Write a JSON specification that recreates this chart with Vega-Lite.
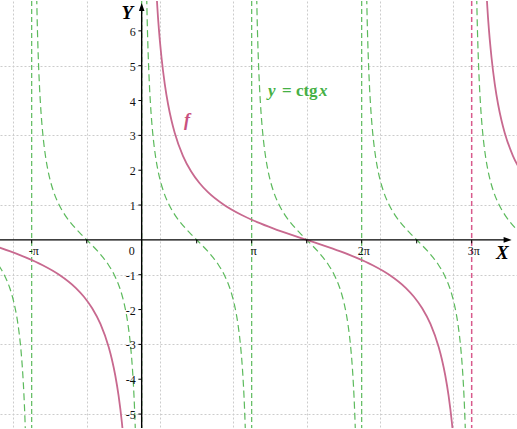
{
  "$schema": "https://vega.github.io/schema/vega-lite/v6.json",
  "width": 517,
  "height": 429,
  "autosize": {"type": "fit", "contains": "padding"},
  "padding": 0,
  "background": "white",
  "config": {"view": {"stroke": null}},
  "datasets": {
    "gasym": [{"x": -1}, {"x": 0}, {"x": 1}, {"x": 2}],
    "pasym": [{"x": 3}],
    "green": [
      {"b": "A", "x": -1.3, "y": -0.727}, {"b": "A", "x": -1.25, "y": -1}, {"b": "A", "x": -1.2, "y": -1.376}, {"b": "A", "x": -1.175, "y": -1.632}, {"b": "A", "x": -1.15, "y": -1.963}, {"b": "A", "x": -1.125, "y": -2.414}, {"b": "A", "x": -1.1, "y": -3.078}, {"b": "A", "x": -1.09, "y": -3.442}, {"b": "A", "x": -1.08, "y": -3.894}, {"b": "A", "x": -1.07, "y": -4.474}, {"b": "A", "x": -1.06, "y": -5.242}, {"b": "A", "x": -1.05, "y": -6.314}, {"b": "A", "x": -1.04, "y": -7.916},
      {"b": "B", "x": -0.96, "y": 7.916}, {"b": "B", "x": -0.95, "y": 6.314}, {"b": "B", "x": -0.94, "y": 5.242}, {"b": "B", "x": -0.93, "y": 4.474}, {"b": "B", "x": -0.92, "y": 3.894}, {"b": "B", "x": -0.91, "y": 3.442}, {"b": "B", "x": -0.9, "y": 3.078}, {"b": "B", "x": -0.875, "y": 2.414}, {"b": "B", "x": -0.85, "y": 1.963}, {"b": "B", "x": -0.825, "y": 1.632}, {"b": "B", "x": -0.8, "y": 1.376}, {"b": "B", "x": -0.75, "y": 1}, {"b": "B", "x": -0.7, "y": 0.727}, {"b": "B", "x": -0.65, "y": 0.51}, {"b": "B", "x": -0.6, "y": 0.325}, {"b": "B", "x": -0.55, "y": 0.158}, {"b": "B", "x": -0.5, "y": 0}, {"b": "B", "x": -0.45, "y": -0.158}, {"b": "B", "x": -0.4, "y": -0.325}, {"b": "B", "x": -0.35, "y": -0.51}, {"b": "B", "x": -0.3, "y": -0.727}, {"b": "B", "x": -0.25, "y": -1}, {"b": "B", "x": -0.2, "y": -1.376}, {"b": "B", "x": -0.175, "y": -1.632}, {"b": "B", "x": -0.15, "y": -1.963}, {"b": "B", "x": -0.125, "y": -2.414}, {"b": "B", "x": -0.1, "y": -3.078}, {"b": "B", "x": -0.09, "y": -3.442}, {"b": "B", "x": -0.08, "y": -3.894}, {"b": "B", "x": -0.07, "y": -4.474}, {"b": "B", "x": -0.06, "y": -5.242}, {"b": "B", "x": -0.05, "y": -6.314}, {"b": "B", "x": -0.04, "y": -7.916},
      {"b": "C", "x": 0.04, "y": 7.916}, {"b": "C", "x": 0.05, "y": 6.314}, {"b": "C", "x": 0.06, "y": 5.242}, {"b": "C", "x": 0.07, "y": 4.474}, {"b": "C", "x": 0.08, "y": 3.894}, {"b": "C", "x": 0.09, "y": 3.442}, {"b": "C", "x": 0.1, "y": 3.078}, {"b": "C", "x": 0.125, "y": 2.414}, {"b": "C", "x": 0.15, "y": 1.963}, {"b": "C", "x": 0.175, "y": 1.632}, {"b": "C", "x": 0.2, "y": 1.376}, {"b": "C", "x": 0.25, "y": 1}, {"b": "C", "x": 0.3, "y": 0.727}, {"b": "C", "x": 0.35, "y": 0.51}, {"b": "C", "x": 0.4, "y": 0.325}, {"b": "C", "x": 0.45, "y": 0.158}, {"b": "C", "x": 0.5, "y": 0}, {"b": "C", "x": 0.55, "y": -0.158}, {"b": "C", "x": 0.6, "y": -0.325}, {"b": "C", "x": 0.65, "y": -0.51}, {"b": "C", "x": 0.7, "y": -0.727}, {"b": "C", "x": 0.75, "y": -1}, {"b": "C", "x": 0.8, "y": -1.376}, {"b": "C", "x": 0.825, "y": -1.632}, {"b": "C", "x": 0.85, "y": -1.963}, {"b": "C", "x": 0.875, "y": -2.414}, {"b": "C", "x": 0.9, "y": -3.078}, {"b": "C", "x": 0.91, "y": -3.442}, {"b": "C", "x": 0.92, "y": -3.894}, {"b": "C", "x": 0.93, "y": -4.474}, {"b": "C", "x": 0.94, "y": -5.242}, {"b": "C", "x": 0.95, "y": -6.314}, {"b": "C", "x": 0.96, "y": -7.916},
      {"b": "D", "x": 1.04, "y": 7.916}, {"b": "D", "x": 1.05, "y": 6.314}, {"b": "D", "x": 1.06, "y": 5.242}, {"b": "D", "x": 1.07, "y": 4.474}, {"b": "D", "x": 1.08, "y": 3.894}, {"b": "D", "x": 1.09, "y": 3.442}, {"b": "D", "x": 1.1, "y": 3.078}, {"b": "D", "x": 1.125, "y": 2.414}, {"b": "D", "x": 1.15, "y": 1.963}, {"b": "D", "x": 1.175, "y": 1.632}, {"b": "D", "x": 1.2, "y": 1.376}, {"b": "D", "x": 1.25, "y": 1}, {"b": "D", "x": 1.3, "y": 0.727}, {"b": "D", "x": 1.35, "y": 0.51}, {"b": "D", "x": 1.4, "y": 0.325}, {"b": "D", "x": 1.45, "y": 0.158}, {"b": "D", "x": 1.5, "y": 0}, {"b": "D", "x": 1.55, "y": -0.158}, {"b": "D", "x": 1.6, "y": -0.325}, {"b": "D", "x": 1.65, "y": -0.51}, {"b": "D", "x": 1.7, "y": -0.727}, {"b": "D", "x": 1.75, "y": -1}, {"b": "D", "x": 1.8, "y": -1.376}, {"b": "D", "x": 1.825, "y": -1.632}, {"b": "D", "x": 1.85, "y": -1.963}, {"b": "D", "x": 1.875, "y": -2.414}, {"b": "D", "x": 1.9, "y": -3.078}, {"b": "D", "x": 1.91, "y": -3.442}, {"b": "D", "x": 1.92, "y": -3.894}, {"b": "D", "x": 1.93, "y": -4.474}, {"b": "D", "x": 1.94, "y": -5.242}, {"b": "D", "x": 1.95, "y": -6.314}, {"b": "D", "x": 1.96, "y": -7.916},
      {"b": "E", "x": 2.04, "y": 7.916}, {"b": "E", "x": 2.05, "y": 6.314}, {"b": "E", "x": 2.06, "y": 5.242}, {"b": "E", "x": 2.07, "y": 4.474}, {"b": "E", "x": 2.08, "y": 3.894}, {"b": "E", "x": 2.09, "y": 3.442}, {"b": "E", "x": 2.1, "y": 3.078}, {"b": "E", "x": 2.125, "y": 2.414}, {"b": "E", "x": 2.15, "y": 1.963}, {"b": "E", "x": 2.175, "y": 1.632}, {"b": "E", "x": 2.2, "y": 1.376}, {"b": "E", "x": 2.25, "y": 1}, {"b": "E", "x": 2.3, "y": 0.727}, {"b": "E", "x": 2.35, "y": 0.51}, {"b": "E", "x": 2.4, "y": 0.325}, {"b": "E", "x": 2.45, "y": 0.158}, {"b": "E", "x": 2.5, "y": 0}, {"b": "E", "x": 2.55, "y": -0.158}, {"b": "E", "x": 2.6, "y": -0.325}, {"b": "E", "x": 2.65, "y": -0.51}, {"b": "E", "x": 2.7, "y": -0.727}, {"b": "E", "x": 2.75, "y": -1}, {"b": "E", "x": 2.8, "y": -1.376}, {"b": "E", "x": 2.825, "y": -1.632}, {"b": "E", "x": 2.85, "y": -1.963}, {"b": "E", "x": 2.875, "y": -2.414}, {"b": "E", "x": 2.9, "y": -3.078}, {"b": "E", "x": 2.91, "y": -3.442}, {"b": "E", "x": 2.92, "y": -3.894}, {"b": "E", "x": 2.93, "y": -4.474}, {"b": "E", "x": 2.94, "y": -5.242}, {"b": "E", "x": 2.95, "y": -6.314}, {"b": "E", "x": 2.96, "y": -7.916},
      {"b": "F", "x": 3.04, "y": 7.916}, {"b": "F", "x": 3.05, "y": 6.314}, {"b": "F", "x": 3.06, "y": 5.242}, {"b": "F", "x": 3.07, "y": 4.474}, {"b": "F", "x": 3.08, "y": 3.894}, {"b": "F", "x": 3.09, "y": 3.442}, {"b": "F", "x": 3.1, "y": 3.078}, {"b": "F", "x": 3.125, "y": 2.414}, {"b": "F", "x": 3.15, "y": 1.963}, {"b": "F", "x": 3.175, "y": 1.632}, {"b": "F", "x": 3.2, "y": 1.376}, {"b": "F", "x": 3.25, "y": 1}, {"b": "F", "x": 3.3, "y": 0.727}, {"b": "F", "x": 3.35, "y": 0.51}, {"b": "F", "x": 3.4, "y": 0.325}, {"b": "F", "x": 3.45, "y": 0.158}
    ],
    "pink": [
      {"b": "P1", "x": -1.3, "y": -0.213}, {"b": "P1", "x": -1.2, "y": -0.325}, {"b": "P1", "x": -1.05, "y": -0.51}, {"b": "P1", "x": -0.9, "y": -0.727}, {"b": "P1", "x": -0.75, "y": -1}, {"b": "P1", "x": -0.6, "y": -1.376}, {"b": "P1", "x": -0.525, "y": -1.632}, {"b": "P1", "x": -0.45, "y": -1.963}, {"b": "P1", "x": -0.375, "y": -2.414}, {"b": "P1", "x": -0.3, "y": -3.078}, {"b": "P1", "x": -0.27, "y": -3.442}, {"b": "P1", "x": -0.24, "y": -3.894}, {"b": "P1", "x": -0.21, "y": -4.474}, {"b": "P1", "x": -0.18, "y": -5.242}, {"b": "P1", "x": -0.15, "y": -6.314}, {"b": "P1", "x": -0.12, "y": -7.916},
      {"b": "P2", "x": 0.12, "y": 7.916}, {"b": "P2", "x": 0.15, "y": 6.314}, {"b": "P2", "x": 0.18, "y": 5.242}, {"b": "P2", "x": 0.21, "y": 4.474}, {"b": "P2", "x": 0.24, "y": 3.894}, {"b": "P2", "x": 0.27, "y": 3.442}, {"b": "P2", "x": 0.3, "y": 3.078}, {"b": "P2", "x": 0.375, "y": 2.414}, {"b": "P2", "x": 0.45, "y": 1.963}, {"b": "P2", "x": 0.525, "y": 1.632}, {"b": "P2", "x": 0.6, "y": 1.376}, {"b": "P2", "x": 0.75, "y": 1}, {"b": "P2", "x": 0.9, "y": 0.727}, {"b": "P2", "x": 1.05, "y": 0.51}, {"b": "P2", "x": 1.2, "y": 0.325}, {"b": "P2", "x": 1.35, "y": 0.158}, {"b": "P2", "x": 1.5, "y": 0}, {"b": "P2", "x": 1.65, "y": -0.158}, {"b": "P2", "x": 1.8, "y": -0.325}, {"b": "P2", "x": 1.95, "y": -0.51}, {"b": "P2", "x": 2.1, "y": -0.727}, {"b": "P2", "x": 2.25, "y": -1}, {"b": "P2", "x": 2.4, "y": -1.376}, {"b": "P2", "x": 2.475, "y": -1.632}, {"b": "P2", "x": 2.55, "y": -1.963}, {"b": "P2", "x": 2.625, "y": -2.414}, {"b": "P2", "x": 2.7, "y": -3.078}, {"b": "P2", "x": 2.73, "y": -3.442}, {"b": "P2", "x": 2.76, "y": -3.894}, {"b": "P2", "x": 2.79, "y": -4.474}, {"b": "P2", "x": 2.82, "y": -5.242}, {"b": "P2", "x": 2.85, "y": -6.314}, {"b": "P2", "x": 2.88, "y": -7.916},
      {"b": "P3", "x": 3.12, "y": 7.916}, {"b": "P3", "x": 3.15, "y": 6.314}, {"b": "P3", "x": 3.18, "y": 5.242}, {"b": "P3", "x": 3.21, "y": 4.474}, {"b": "P3", "x": 3.24, "y": 3.894}, {"b": "P3", "x": 3.27, "y": 3.442}, {"b": "P3", "x": 3.3, "y": 3.078}, {"b": "P3", "x": 3.375, "y": 2.414}, {"b": "P3", "x": 3.42, "y": 2.125}, {"b": "P3", "x": 3.45, "y": 1.963}
    ],
    "xticks": [{"x": -1}, {"x": -0.5}, {"x": 0.5}, {"x": 1}, {"x": 1.5}, {"x": 2}, {"x": 2.5}, {"x": 3}],
    "yticks": [{"y": -5}, {"y": -4}, {"y": -3}, {"y": -2}, {"y": -1}, {"y": 1}, {"y": 2}, {"y": 3}, {"y": 4}, {"y": 5}, {"y": 6}],
    "xlabels": [{"x": -1, "t": "-π"}, {"x": 1, "t": "π"}, {"x": 2, "t": "2π"}, {"x": 3, "t": "3π"}],
    "ylabels": [{"y": -5, "t": "-5"}, {"y": -4, "t": "-4"}, {"y": -3, "t": "-3"}, {"y": -2, "t": "-2"}, {"y": -1, "t": "-1"}, {"y": 1, "t": "1"}, {"y": 2, "t": "2"}, {"y": 3, "t": "3"}, {"y": 4, "t": "4"}, {"y": 5, "t": "5"}, {"y": 6, "t": "6"}],
    "origin": [{"x": 0, "t": "0"}],
    "hax": [{"x": -1.3, "x2": 3.327, "y": 0}],
    "vax": [{"x": 0, "y": -5.5, "y2": 6.686}],
    "harrow": [{"x": 3.327, "y": 0}],
    "varrow": [{"x": 0, "y": 6.686}],
    "axtitles": [{"x": 3.278, "y": -0.37, "t": "X"}, {"x": -0.13, "y": 6.51, "t": "Y"}],
    "flabel": [{"x": 0.412, "y": 3.4, "t": "f"}],
    "glabel_y": [{"x": 1.148, "y": 4.27, "t": "y"}],
    "glabel_mid": [{"x": 1.148, "y": 4.27, "t": "= ctg"}],
    "glabel_x": [{"x": 1.148, "y": 4.27, "t": "x"}]
  },
  "layer": [
    {
      "data": {"name": "green"},
      "mark": {"type": "line", "opacity": 0, "clip": true},
      "encoding": {
        "x": {"field": "x", "type": "quantitative", "scale": {"domain": [-1.288, 3.412], "nice": false, "zero": false},
          "axis": {"values": [-1.1667, -1, -0.8333, -0.6667, -0.5, -0.3333, -0.1667, 0, 0.1667, 0.3333, 0.5, 0.6667, 0.8333, 1, 1.1667, 1.3333, 1.5, 1.6667, 1.8333, 2, 2.1667, 2.3333, 2.5, 2.6667, 2.8333, 3, 3.1667, 3.3333],
            "grid": true, "gridDash": [2, 2], "gridColor": "#cccccc", "gridWidth": 1, "labels": false, "ticks": false, "domain": false, "title": null}},
        "y": {"field": "y", "type": "quantitative", "scale": {"domain": [-5.4, 6.857], "nice": false, "zero": false},
          "axis": {"values": [-5, -4.5, -4, -3.5, -3, -2.5, -2, -1.5, -1, -0.5, 0, 0.5, 1, 1.5, 2, 2.5, 3, 3.5, 4, 4.5, 5, 5.5, 6, 6.5],
            "grid": true, "gridDash": [2, 2], "gridColor": "#cccccc", "gridWidth": 1, "labels": false, "ticks": false, "domain": false, "title": null}},
        "detail": {"field": "b"}
      }
    },
    {
      "data": {"name": "gasym"},
      "mark": {"type": "rule", "color": "#5cba5c", "strokeDash": [5, 3], "strokeWidth": 1.2},
      "encoding": {
        "x": {"field": "x", "type": "quantitative", "scale": {"domain": [-1.288, 3.412], "nice": false, "zero": false}}
      }
    },
    {
      "data": {"name": "green"},
      "mark": {"type": "line", "color": "#5cba5c", "strokeDash": [7, 4], "strokeWidth": 1.2, "clip": true, "interpolate": "monotone"},
      "encoding": {
        "x": {"field": "x", "type": "quantitative", "scale": {"domain": [-1.288, 3.412], "nice": false, "zero": false}},
        "y": {"field": "y", "type": "quantitative", "scale": {"domain": [-5.4, 6.857], "nice": false, "zero": false}},
        "detail": {"field": "b"}
      }
    },
    {
      "data": {"name": "pasym"},
      "mark": {"type": "rule", "color": "#d85a8c", "strokeDash": [5, 3], "strokeWidth": 1.5},
      "encoding": {
        "x": {"field": "x", "type": "quantitative", "scale": {"domain": [-1.288, 3.412], "nice": false, "zero": false}}
      }
    },
    {
      "data": {"name": "pink"},
      "mark": {"type": "line", "color": "#c8698f", "strokeWidth": 1.8, "clip": true, "interpolate": "monotone"},
      "encoding": {
        "x": {"field": "x", "type": "quantitative", "scale": {"domain": [-1.288, 3.412], "nice": false, "zero": false}},
        "y": {"field": "y", "type": "quantitative", "scale": {"domain": [-5.4, 6.857], "nice": false, "zero": false}},
        "detail": {"field": "b"}
      }
    },
    {
      "data": {"name": "hax"},
      "mark": {"type": "rule", "color": "#000000", "strokeWidth": 1.4, "clip": true},
      "encoding": {
        "x": {"field": "x", "type": "quantitative"},
        "x2": {"field": "x2"},
        "y": {"field": "y", "type": "quantitative"}
      }
    },
    {
      "data": {"name": "vax"},
      "mark": {"type": "rule", "color": "#000000", "strokeWidth": 1.4, "clip": true},
      "encoding": {
        "x": {"field": "x", "type": "quantitative"},
        "y": {"field": "y", "type": "quantitative"},
        "y2": {"field": "y2"}
      }
    },
    {
      "data": {"name": "harrow"},
      "mark": {"type": "point", "shape": "M1,0L-1,-0.7L-1,0.7Z", "size": 64, "filled": true, "color": "#000000", "opacity": 1},
      "encoding": {
        "x": {"field": "x", "type": "quantitative"},
        "y": {"field": "y", "type": "quantitative"}
      }
    },
    {
      "data": {"name": "varrow"},
      "mark": {"type": "point", "shape": "M0,-1L-0.7,1L0.7,1Z", "size": 64, "filled": true, "color": "#000000", "opacity": 1},
      "encoding": {
        "x": {"field": "x", "type": "quantitative"},
        "y": {"field": "y", "type": "quantitative"}
      }
    },
    {
      "data": {"name": "xticks"},
      "mark": {"type": "rule", "color": "#000000", "strokeWidth": 1},
      "encoding": {
        "x": {"field": "x", "type": "quantitative"},
        "y": {"datum": 0, "type": "quantitative"},
        "y2": {"datum": -0.1}
      }
    },
    {
      "data": {"name": "yticks"},
      "mark": {"type": "rule", "color": "#000000", "strokeWidth": 1},
      "encoding": {
        "y": {"field": "y", "type": "quantitative"},
        "x": {"datum": 0, "type": "quantitative"},
        "x2": {"datum": -0.03}
      }
    },
    {
      "data": {"name": "xlabels"},
      "mark": {"type": "text", "font": "Liberation Serif", "fontSize": 12, "color": "#111111", "align": "center", "baseline": "middle", "dx": 2, "dy": 11},
      "encoding": {
        "x": {"field": "x", "type": "quantitative"},
        "y": {"datum": 0, "type": "quantitative"},
        "text": {"field": "t"}
      }
    },
    {
      "data": {"name": "origin"},
      "mark": {"type": "text", "font": "Liberation Serif", "fontSize": 12, "color": "#111111", "align": "center", "baseline": "middle", "dx": -10, "dy": 11},
      "encoding": {
        "x": {"field": "x", "type": "quantitative"},
        "y": {"datum": 0, "type": "quantitative"},
        "text": {"field": "t"}
      }
    },
    {
      "data": {"name": "ylabels"},
      "mark": {"type": "text", "font": "Liberation Serif", "fontSize": 12, "color": "#111111", "align": "right", "baseline": "middle", "dx": -6, "dy": 1},
      "encoding": {
        "y": {"field": "y", "type": "quantitative"},
        "x": {"datum": 0, "type": "quantitative"},
        "text": {"field": "t"}
      }
    },
    {
      "data": {"name": "axtitles"},
      "mark": {"type": "text", "font": "Liberation Serif", "fontSize": 19, "fontWeight": "bold", "fontStyle": "italic", "color": "#000000", "align": "center", "baseline": "middle"},
      "encoding": {
        "x": {"field": "x", "type": "quantitative"},
        "y": {"field": "y", "type": "quantitative"},
        "text": {"field": "t"}
      }
    },
    {
      "data": {"name": "flabel"},
      "mark": {"type": "text", "font": "Liberation Serif", "fontSize": 18, "fontWeight": "bold", "fontStyle": "italic", "color": "#c8507f", "align": "center", "baseline": "middle"},
      "encoding": {
        "x": {"field": "x", "type": "quantitative"},
        "y": {"field": "y", "type": "quantitative"},
        "text": {"field": "t"}
      }
    },
    {
      "data": {"name": "glabel_y"},
      "mark": {"type": "text", "font": "Liberation Serif", "fontSize": 17, "fontWeight": "bold", "fontStyle": "italic", "color": "#45b045", "align": "left", "baseline": "middle", "dx": 0},
      "encoding": {
        "x": {"field": "x", "type": "quantitative"},
        "y": {"field": "y", "type": "quantitative"},
        "text": {"field": "t"}
      }
    },
    {
      "data": {"name": "glabel_mid"},
      "mark": {"type": "text", "font": "Liberation Serif", "fontSize": 17, "fontWeight": "bold", "color": "#45b045", "align": "left", "baseline": "middle", "dx": 14},
      "encoding": {
        "x": {"field": "x", "type": "quantitative"},
        "y": {"field": "y", "type": "quantitative"},
        "text": {"field": "t"}
      }
    },
    {
      "data": {"name": "glabel_x"},
      "mark": {"type": "text", "font": "Liberation Serif", "fontSize": 17, "fontWeight": "bold", "fontStyle": "italic", "color": "#45b045", "align": "left", "baseline": "middle", "dx": 51},
      "encoding": {
        "x": {"field": "x", "type": "quantitative"},
        "y": {"field": "y", "type": "quantitative"},
        "text": {"field": "t"}
      }
    }
  ]
}
